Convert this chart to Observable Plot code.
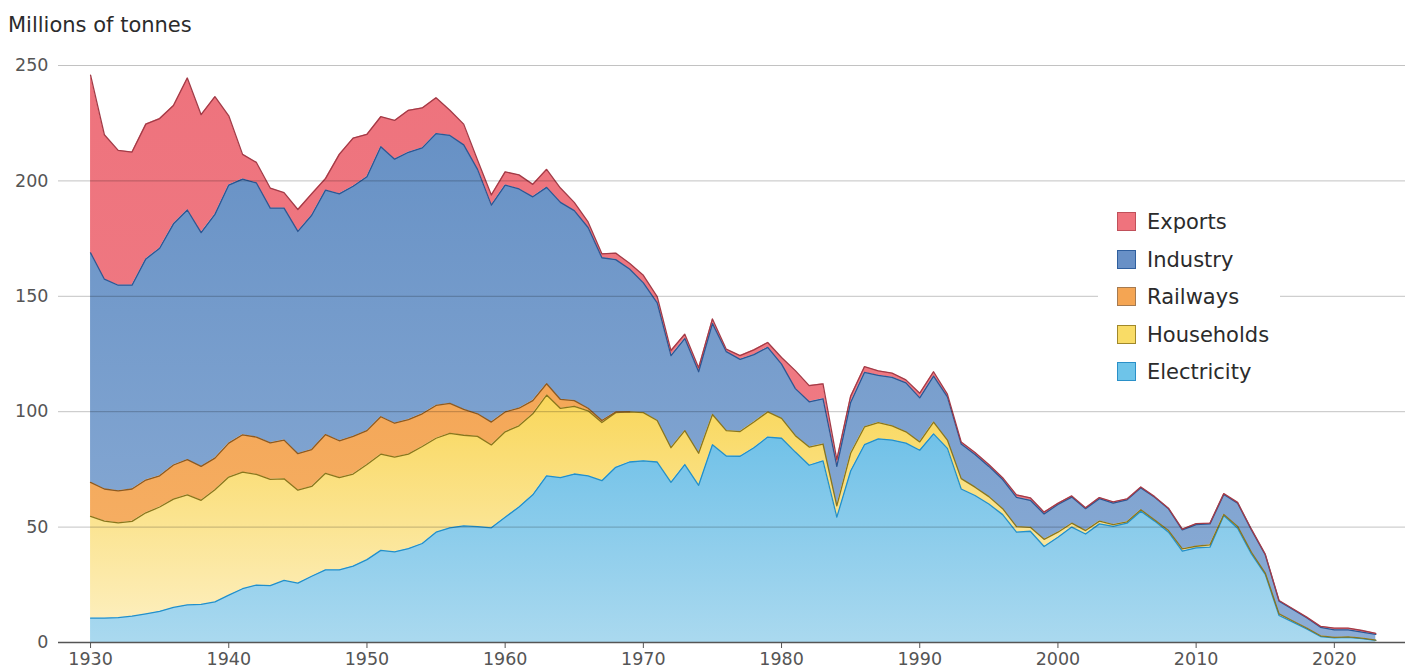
<!DOCTYPE html>
<html><head><meta charset="utf-8">
<script src="https://cdn.jsdelivr.net/npm/d3@7"></script>
<script src="https://cdn.jsdelivr.net/npm/@observablehq/plot@0.6"></script>
<style>
body{margin:0;background:#fff;font-family:"DejaVu Sans",sans-serif;}
#wrap{position:relative;width:1408px;height:669px;overflow:hidden;background:#fff;}
#title{position:absolute;left:8px;top:13px;font-size:21px;color:#2b2b2b;white-space:nowrap;}
#chart{position:absolute;left:0;top:44px;}
#legend{position:absolute;left:1098px;top:198px;width:182px;height:196px;background:#fff;}
.item{position:absolute;left:0;height:20px;width:182px;}
.sw{position:absolute;left:19px;top:0;width:19px;height:19px;box-sizing:border-box;border:1.5px solid #000;}
.lb{position:absolute;left:49px;top:-5px;font-size:21px;line-height:30px;color:#2b2b2b;white-space:nowrap;}
</style></head>
<body>
<div id="wrap">
  <div id="title">Millions of tonnes</div>
  <div id="chart"></div>
  <div id="legend"></div>
</div>
<script>
const startYear = 1930;
const endYear = 2023;
const seriesNames = ["Electricity","Households","Railways","Industry","Exports"];
const xTicks = [1930,1940,1950,1960,1970,1980,1990,2000,2010,2020];
const yTicks = [0,50,100,150,200,250];

const electricity = [10.6,10.6,10.8,11.4,12.4,13.5,15.2,16.3,16.5,17.6,
 20.5,23.3,24.9,24.6,26.9,25.7,28.7,31.5,31.5,33.1,
 35.9,39.9,39.3,40.7,42.9,47.8,49.7,50.5,50.2,49.7,
 54.3,58.7,64.0,72.2,71.4,73.0,72.2,70.1,75.9,78.2,
 78.7,78.2,69.4,77.1,68.1,85.7,80.8,80.7,84.4,89.0,
 88.5,82.5,76.8,78.7,54.3,74.3,85.7,88.2,87.7,86.4,
 83.3,90.4,84.1,66.5,63.7,60.0,55.4,47.8,48.2,41.6,
 45.6,50.0,47.0,51.4,50.3,51.7,56.9,52.6,47.8,39.6,
 41.0,41.3,55.0,49.5,38.4,29.5,11.7,8.8,5.9,2.6,
 2.0,2.2,1.7,0.9];
const households = [44.0,42.0,41.0,41.1,43.8,45.2,46.9,47.7,45.1,48.6,
 51.2,50.5,47.9,46.1,44.0,40.3,38.9,41.8,39.9,39.9,
 41.2,41.7,41.0,40.9,42.0,40.7,40.9,39.3,39.1,35.9,
 37.0,35.2,35.1,35.0,30.0,29.3,28.2,25.2,23.7,21.7,
 20.9,18.0,15.0,14.7,13.9,13.1,11.0,10.7,11.1,10.9,
 8.6,7.1,7.9,7.3,4.9,7.7,7.7,7.1,6.2,4.9,
 3.6,5.1,3.6,4.5,3.6,3.2,2.6,2.4,1.7,3.1,
 2.2,1.7,1.5,1.2,0.8,0.6,0.6,0.5,0.7,1.0,
 0.7,1.0,0.5,0.8,0.7,0.6,0.7,0.5,0.4,0.3,
 0.2,0.2,0.2,0.1];
const railways = [14.8,13.9,13.9,14.0,14.2,13.5,14.8,15.2,14.7,13.7,
 14.7,16.2,16.2,15.8,16.8,15.8,16.0,16.8,16.0,16.3,
 14.7,16.2,14.7,15.0,14.2,14.2,13.0,11.2,9.8,9.9,
 8.6,7.6,5.7,4.9,3.9,2.5,1.1,0.9,0.3,0,
 0,0,0,0,0,0,0,0,0,0,
 0,0,0,0,0,0,0,0,0,0,
 0,0,0,0,0,0,0,0,0,0,
 0,0,0,0,0,0,0,0,0,0,
 0,0,0,0,0,0,0,0,0,0,
 0,0,0,0];
const industry = [99.4,90.9,89.1,88.3,95.8,98.6,104.5,108.2,101.3,105.6,
 111.8,110.8,110.1,101.7,100.5,96.3,101.5,105.9,107.0,108.4,
 110.0,117.0,114.4,115.8,115.2,117.8,116.1,114.6,105.9,94.0,
 98.3,95.0,88.3,85.1,85.4,82.3,78.3,70.5,66.0,61.9,
 56.2,51.0,39.9,39.9,35.3,39.4,34.2,31.3,29.2,28.0,
 23.5,20.4,19.6,19.6,17.1,22.0,23.6,20.4,21.0,21.2,
 19.1,19.9,18.7,15.0,14.2,13.1,12.6,12.7,11.7,11.0,
 12.0,11.3,9.5,9.7,9.3,9.5,9.5,9.8,9.4,8.2,
 9.4,9.1,8.6,10.1,9.7,7.9,5.5,5.0,4.4,3.7,
 3.3,3.1,2.6,2.5];
const exportsData = [77.0,62.6,58.4,57.7,58.4,56.2,51.3,57.2,51.1,51.0,
 30.0,10.7,8.9,8.7,6.7,9.5,9.3,5.0,17.1,20.8,
 18.4,13.0,16.8,18.2,17.3,15.5,10.9,9.0,4.1,4.4,
 5.7,6.1,5.4,7.8,6.2,3.6,2.4,1.7,2.8,2.5,
 3.3,2.7,2.2,1.9,1.7,2.0,1.1,1.6,2.1,2.1,
 2.9,7.8,7.0,6.5,2.9,2.7,2.5,2.0,1.8,1.3,
 2.0,1.9,1.2,0.9,0.8,0.8,0.8,1.1,1.1,0.8,
 0.5,0.5,0.4,0.5,0.5,0.4,0.4,0.3,0.3,0.3,
 0.4,0.3,0.4,0.3,0.3,0.3,0.3,0.3,0.3,0.4,
 0.7,0.7,0.7,0.5];

const seriesValues = {Electricity: electricity, Households: households, Railways: railways, Industry: industry, Exports: exportsData};
const gradTop = {Electricity:"#70c1e8", Households:"#f9d75a", Railways:"#f4a757", Industry:"#6791c5", Exports:"#ee737d"};
const gradBottom = {Electricity:"#aad9ef", Households:"#fdf0c4", Railways:"#f6b26a", Industry:"#8cadd6", Exports:"#f07d86"};
const lineColors = {Electricity:"#2390c9", Households:"#8a761c", Railways:"#8c5a22", Industry:"#2b5794", Exports:"#a23b47"};
const swatchFill = {Electricity:"#6ec4e9", Households:"#f9dc66", Railways:"#f4a553", Industry:"#6890c6", Exports:"#ef737d"};
const swatchBorder = {Electricity:"#2a90c8", Households:"#a0882a", Railways:"#a57a50", Industry:"#2f5f9e", Exports:"#c0505a"};

const years = d3.range(startYear, endYear + 1);
const rows = [];
for (const s of seriesNames) years.forEach((yr, i) => rows.push({year: yr, series: s, value: seriesValues[s][i]}));

// a layer's top line is drawn only while the layer is present
const lastPresent = {};
for (const s of seriesNames) {
  let last = startYear;
  seriesValues[s].forEach((v, i) => { if (v > 0) last = years[i] + 1; });
  lastPresent[s] = last;
}

const defsMark = () => {
  const defs = d3.create("svg:defs");
  for (const s of seriesNames) {
    const g = defs.append("linearGradient").attr("id", "grad-" + s).attr("x1", 0).attr("x2", 0).attr("y1", 0).attr("y2", 1);
    g.append("stop").attr("offset", "0%").attr("stop-color", gradTop[s]);
    g.append("stop").attr("offset", "100%").attr("stop-color", gradBottom[s]);
  }
  return defs.node();
};

const stackOpts = {x: "year", y: "value", z: "series", order: seriesNames};

const chart = Plot.plot({
  width: 1408, height: 628,
  marginLeft: 58, marginRight: 3, marginTop: 21, marginBottom: 30,
  style: {fontFamily: "'DejaVu Sans', sans-serif", fontSize: "17.5px", color: "#555", background: "transparent", overflow: "visible"},
  x: {domain: [1927.68, 2025.15], ticks: xTicks, tickFormat: d => String(d), tickSize: 6, tickPadding: 4, label: null},
  y: {domain: [0, 250], ticks: yTicks, tickSize: 0, tickPadding: 10, label: null},
  marks: [
    defsMark,
    ...seriesNames.map(s => Plot.areaY(rows, Plot.filter(d => d.series === s, Plot.stackY({...stackOpts, fill: `url(#grad-${s})`})))),
    ...seriesNames.map(s => Plot.lineY(rows, Plot.filter(d => d.series === s && d.year <= lastPresent[s], Plot.stackY2({...stackOpts, stroke: lineColors[s], strokeWidth: 1.3})))),
    Plot.ruleY(yTicks.filter(v => v > 0), {stroke: "#000", strokeOpacity: 0.24, strokeWidth: 1}),
    Plot.ruleY([0], {stroke: "#555", strokeWidth: 1.4})
  ]
});
document.getElementById("chart").appendChild(chart);

const legend = document.getElementById("legend");
seriesNames.slice().reverse().forEach((s, i) => {
  const it = document.createElement("div");
  it.className = "item";
  it.style.top = (14 + i * 37.5) + "px";
  const sw = document.createElement("div");
  sw.className = "sw";
  sw.style.background = swatchFill[s];
  sw.style.borderColor = swatchBorder[s];
  const lb = document.createElement("div");
  lb.className = "lb";
  lb.textContent = s;
  it.appendChild(sw); it.appendChild(lb);
  legend.appendChild(it);
});
</script>
</body></html>
